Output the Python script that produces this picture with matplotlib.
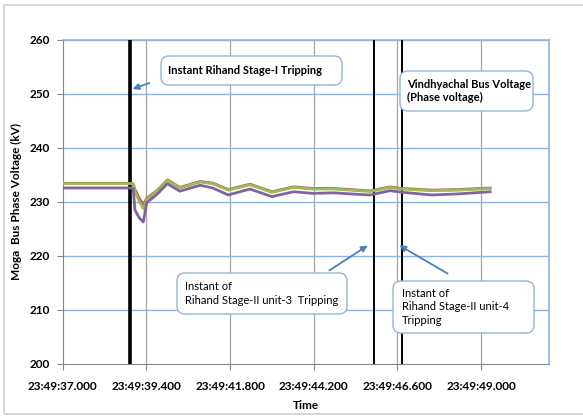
import matplotlib
matplotlib.use("Agg")
import matplotlib.pyplot as plt
from matplotlib.patches import FancyBboxPatch, Rectangle

plt.rcParams['font.family'] = ['Lato', 'DejaVu Sans']

# ---- data (seconds after 23:49:00) ----
time_s = [37.0, 38.0, 38.95, 39.02, 39.07, 39.2, 39.31, 39.41, 39.7, 40.0, 40.36,
          40.94, 41.3, 41.75, 42.37, 43.0, 43.62, 44.18, 44.76, 45.25, 45.82,
          46.39, 46.73, 47.59, 48.35, 49.26]
red_kv = [233.45, 233.45, 233.45, 233.35, 232.3, 230.6, 229.5, 230.7, 232.1, 234.1, 232.7,
          233.8, 233.5, 232.3, 233.3, 231.9, 232.8, 232.5, 232.5, 232.3, 232.05,
          232.8, 232.5, 232.2, 232.3, 232.6]
green_kv = [233.4, 233.4, 233.4, 233.3, 232.0, 230.0, 228.8, 230.5, 232.0, 234.0, 232.6,
            233.7, 233.4, 232.2, 233.2, 231.8, 232.7, 232.4, 232.4, 232.2, 231.95,
            232.7, 232.4, 232.1, 232.2, 232.5]
purple_kv = [232.6, 232.6, 232.6, 232.5, 228.5, 227.0, 226.3, 229.9, 231.4, 233.4, 232.0,
             233.1, 232.6, 231.3, 232.4, 231.0, 231.9, 231.6, 231.7, 231.5, 231.3,
             232.1, 231.8, 231.3, 231.5, 231.9]
event_times = [38.93, 45.93, 46.72]
event_widths = [2.6, 1.4, 1.4]
xtick_vals = [37.0, 39.4, 41.8, 44.2, 46.6, 49.0]
xtick_labels = ['23:49:37.000', '23:49:39.400', '23:49:41.800',
                '23:49:44.200', '23:49:46.600', '23:49:49.000']
ytick_vals = [200, 210, 220, 230, 240, 250, 260]

W, H = 583, 417
fig = plt.figure(figsize=(W / 100, H / 100), dpi=100)
ax = fig.add_axes([62.8 / W, 1 - 364 / H, (549 - 62.8) / W, (364 - 40) / H])

def px(x, y):
    return (x / 100.0, (H - y) / 100.0)

# outer chart border
fig.patches.append(Rectangle(px(4, 414), (W + 10) / 100, 409 / 100, transform=fig.dpi_scale_trans,
                             fill=False, edgecolor='#D0D0D0', lw=1.2, zorder=0))

ax.set_xlim(37.0, 50.95)
ax.set_ylim(200, 260)

# grids
for xv in xtick_vals[1:]:
    ax.axvline(xv, color='#A6A6A6', lw=0.9, zorder=1)
for yv in ytick_vals[1:]:
    ax.axhline(yv, color='#8EB4E3', lw=1.0, zorder=1)

# event lines
for t, w in zip(event_times, event_widths):
    ax.axvline(t, color='black', lw=w, zorder=3)

ax.plot(time_s, red_kv, color='#C0504D', lw=2.0, zorder=4)
ax.plot(time_s, green_kv, color='#9BBB59', lw=2.0, zorder=5)
ax.plot(time_s, purple_kv, color='#8064A2', lw=2.0, zorder=6)

ax.set_xticks(xtick_vals)
ax.set_xticklabels(xtick_labels, fontsize=8.5, fontweight='bold')
ax.set_yticks(ytick_vals)
ax.set_yticklabels([str(v) for v in ytick_vals], fontsize=8.5, fontweight='bold')
ax.tick_params(axis='both', direction='out', length=4, color='#868686')
ax.tick_params(axis='y', pad=5)
ax.tick_params(axis='x', pad=8)

for s in ['left', 'bottom']:
    ax.spines[s].set_color('#868686')
for s in ['top', 'right']:
    ax.spines[s].set_color('#8EB4E3')
    ax.spines[s].set_linewidth(1.2)

ax.set_xlabel('Time', fontsize=8.5, fontweight='bold', labelpad=6)
ax.set_ylabel('Moga  Bus Phase Voltage (kV)', fontsize=8.5, fontweight='bold', labelpad=6)

# annotation boxes (pixel geometry)
boxes = [
    ((161, 56, 342, 85), 'Instant Rihand Stage-I Tripping', 'bold', 168),
    ((400, 71, 533, 111), 'Vindhyachal Bus Voltage\n(Phase voltage)', 'bold', 407),
    ((177, 273, 347, 314), 'Instant of\nRihand Stage-II unit-3  Tripping', 'normal', 185),
    ((393, 281, 534, 333), 'Instant of\nRihand Stage-II unit-4\nTripping', 'normal', 402),
]
for (x0, y0, x1, y1), txt, wt, tx in boxes:
    p = FancyBboxPatch(px(x0, y1), (x1 - x0) / 100, (y1 - y0) / 100,
                       boxstyle='round,pad=0,rounding_size=0.08',
                       transform=fig.dpi_scale_trans, facecolor='white',
                       edgecolor='#95B3D7', lw=1.0, zorder=7)
    fig.patches.append(p)
    fig.text(tx / W, 1 - ((y0 + y1) / 2) / H, txt, fontsize=8, fontweight=wt,
             ha='left', va='center', linespacing=1.25, zorder=8)

arrows = [((152, 82), (130, 90)), ((327, 272), (370, 244)), ((450, 275), (397, 244))]
for (tx_, ty_), (hx, hy) in arrows:
    fig.patches.append(matplotlib.patches.FancyArrowPatch(
        px(tx_, ty_), px(hx, hy), transform=fig.dpi_scale_trans,
        arrowstyle='-|>', mutation_scale=9, color='#4A7EBB', lw=1.3, zorder=8))

fig.savefig('out.png', dpi=100)
